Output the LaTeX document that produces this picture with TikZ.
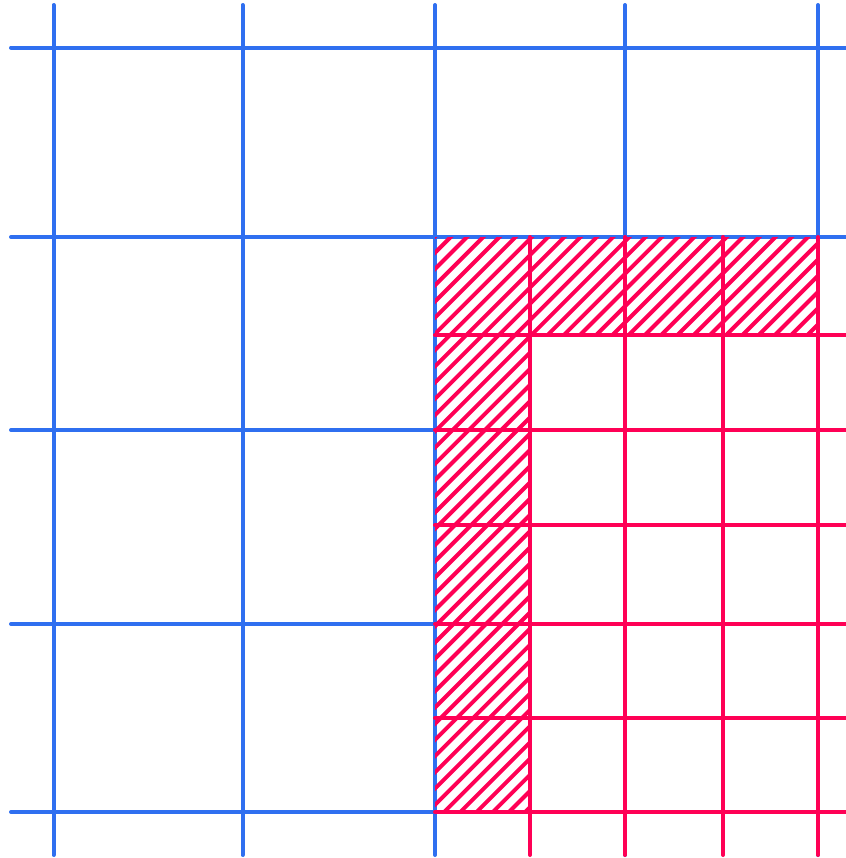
\documentclass[tikz,border=0pt]{standalone}
\definecolor{gblue}{RGB}{47,111,240}
\definecolor{gred}{RGB}{255,0,85}
\begin{document}
\begin{tikzpicture}[x=0.75pt,y=-0.75pt,
  blueline/.style={draw=gblue,line width=3pt,line cap=round},
  redline/.style={draw=gred,line width=3pt,line cap=round},
  hatchline/.style={draw=gred,line width=3pt}]
\useasboundingbox (0,0) rectangle (846,858);
% blue grid
\foreach \x in {53.5,242.5,435,625,818}
  \draw[blueline] (\x,5) -- (\x,855);
\foreach \y in {47.5,237,430,624,812}
  \draw[blueline] (11,\y) -- (846,\y);
% hatched L region
\begin{scope}
  \clip (435,237) -- (818,237) -- (818,335) -- (530,335) -- (530,812) -- (435,812) -- cycle;
  \foreach \c in {671.46,687.7,...,1360}
    \draw[hatchline] (400,\c-400) -- (900,\c-900);
\end{scope}
% red grid
\foreach \x in {530,625,723,818}
  \draw[redline] (\x,237) -- (\x,855);
\foreach \y in {335,430,525,624,718,812}
  \draw[redline] (435,\y) -- (846,\y);
\end{tikzpicture}
\end{document}
